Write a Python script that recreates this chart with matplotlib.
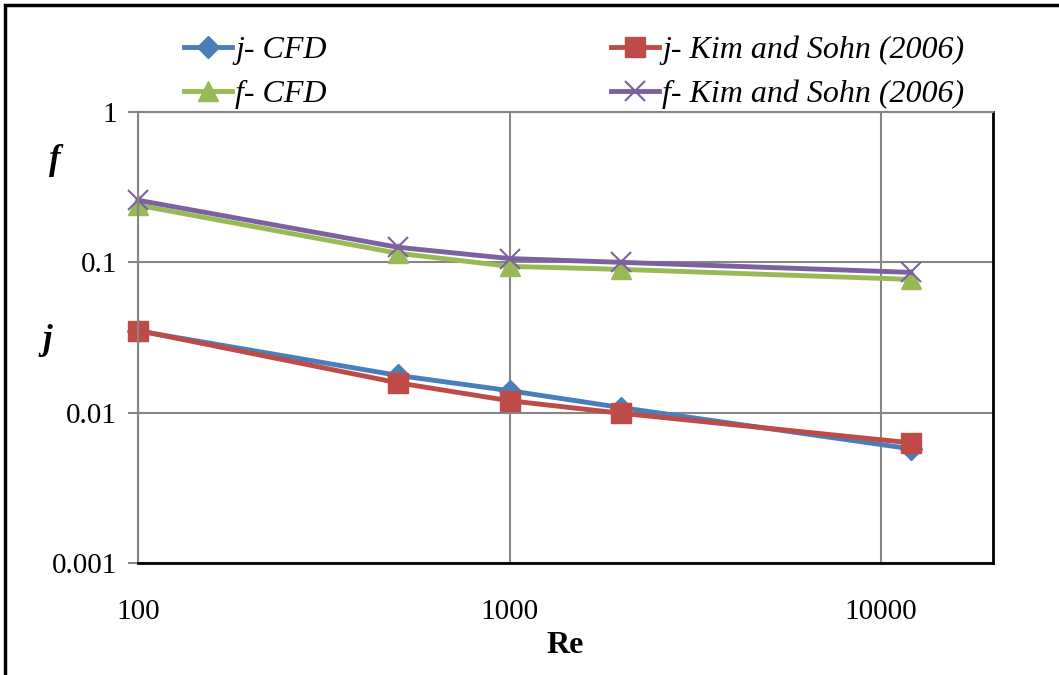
import matplotlib.pyplot as plt
from matplotlib.patches import Rectangle

# Re values and j / f factors
re_vals = [100, 500, 1000, 2000, 12000]
j_cfd = [0.0350, 0.0177, 0.0140, 0.0108, 0.00575]
j_kim = [0.0352, 0.0158, 0.0120, 0.0099, 0.0063]
f_cfd = [0.240, 0.115, 0.094, 0.0898, 0.077]
f_kim = [0.259, 0.126, 0.106, 0.100, 0.0858]

plt.rcParams['font.family'] = ['Liberation Serif', 'DejaVu Serif']

fig = plt.figure(figsize=(10.59, 6.75), dpi=100)
ax = fig.add_axes([0.1303, 0.166, 0.8074, 0.668])

grid_c = '#868686'
l1, = ax.plot(re_vals, j_cfd, color='#4A7EBB', lw=3.5, marker='D', ms=11, label='j- CFD', clip_on=False)
l2, = ax.plot(re_vals, f_cfd, color='#98B954', lw=3.5, marker='^', ms=15, label='f- CFD', clip_on=False)
l3, = ax.plot(re_vals, j_kim, color='#BE4B48', lw=3.5, marker='s', ms=14,
              label='j- Kim and Sohn (2006)', clip_on=False)
l4, = ax.plot(re_vals, f_kim, color='#7D60A0', lw=3.5, marker='x', ms=15, mew=1.5,
              label='f- Kim and Sohn (2006)', clip_on=False)

ax.set_xscale('log')
ax.set_yscale('log')
ax.set_xlim(100, 20000)
ax.set_ylim(0.001, 1)
ax.set_xticks([100, 1000, 10000])
ax.set_xticklabels(['100', '1000', '10000'])
ax.set_yticks([0.001, 0.01, 0.1, 1])
ax.set_yticklabels(['0.001', '0.01', '0.1', '1'])
ax.minorticks_off()
ax.tick_params(axis='x', length=0, pad=26, labelsize=21)
ax.tick_params(axis='y', length=7, width=1.5, color=grid_c, pad=8, labelsize=21)
ax.grid(True, color=grid_c, lw=1.5)
ax.set_axisbelow(True)

ax.spines['left'].set_color(grid_c)
ax.spines['left'].set_linewidth(1.5)
ax.spines['top'].set_color(grid_c)
ax.spines['top'].set_linewidth(1.5)
ax.spines['bottom'].set_color('black')
ax.spines['bottom'].set_linewidth(2)
ax.spines['right'].set_color('black')
ax.spines['right'].set_linewidth(2)

ax.set_xlabel('Re', fontsize=23, fontweight='bold', labelpad=4)

fig.text(0.052, 0.762, 'f', fontsize=25, fontweight='bold', style='italic', ha='center', va='center')
fig.text(0.045, 0.495, 'j', fontsize=25, fontweight='bold', style='italic', ha='center', va='center')

leg = fig.legend(handles=[l1, l2, l3, l4], ncol=2, loc='upper left',
                 bbox_to_anchor=(0.1468, 0.99), frameon=False,
                 prop={'style': 'italic', 'size': 23},
                 handlelength=1.5, handletextpad=0.1, columnspacing=8.9,
                 labelspacing=0.45)

# outer frame around the figure (right and bottom run off the image)
fig.patches.append(Rectangle((0.005, -0.1), 1.2, 1.092, transform=fig.transFigure,
                             fill=False, ec='black', lw=2.5))

fig.savefig('out.png', dpi=100)
